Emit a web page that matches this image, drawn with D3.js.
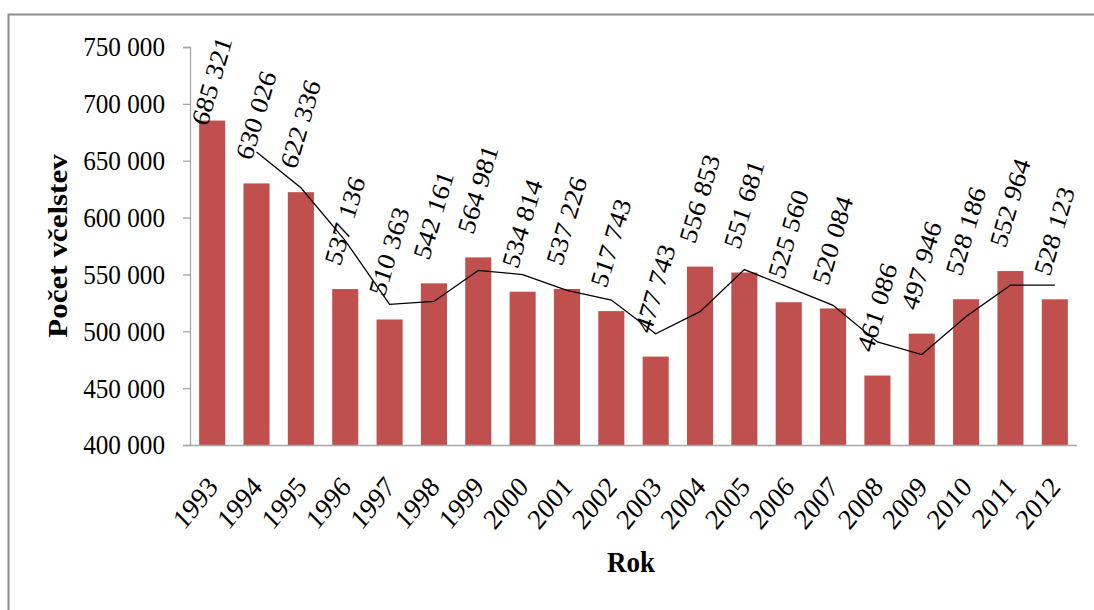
<!DOCTYPE html>
<html>
<head>
<meta charset="utf-8">
<script src="https://cdn.jsdelivr.net/npm/d3@7"></script>
<style>
  html, body { margin: 0; padding: 0; background: #fff; }
  svg { display: block; }
  svg text { font-family: "Liberation Serif"; fill: #000; }
</style>
</head>
<body>
<svg id="chart" width="1094" height="610"></svg>
<script>
// Počet včelstev v ČR 1993–2012
const years = ["1993","1994","1995","1996","1997","1998","1999","2000","2001","2002",
               "2003","2004","2005","2006","2007","2008","2009","2010","2011","2012"];
const colonies = [685321, 630026, 622336, 537136, 510363, 542161, 564981, 534814, 537226, 517743,
                  477743, 556853, 551681, 525560, 520084, 461086, 497946, 528186, 552964, 528123];
// klouzavý průměr (2 období), od roku 1994
const trendYears = years.slice(1);
const movingAvg = [657673.5, 626181, 579736, 523749.5, 526262, 553571, 549897.5, 536020, 527484.5,
                   497743, 517298, 554267, 538620.5, 522822, 490585, 479516, 513066, 540575, 540543.5];
const yTicks = [400000, 450000, 500000, 550000, 600000, 650000, 700000, 750000];

const svg = d3.select("#chart");
const serif = "Liberation Serif";
const squeeze = 0.9;   // užší písmo (vodorovné zúžení textu)

// rámeček grafu
svg.append("rect")
  .attr("x", 8.5).attr("y", 14.5)
  .attr("width", 1200).attr("height", 800)
  .attr("fill", "none").attr("stroke", "#8c8c8c").attr("stroke-width", 2);

const plotLeft = 190, plotRight = 1077, plotTop = 47, plotBottom = 445;

const x = d3.scaleBand().domain(years).range([plotLeft, plotRight])
  .paddingInner(0.412).paddingOuter(0.206);
const y = d3.scaleLinear().domain([400000, 750000]).range([plotBottom, plotTop]);

const loc = d3.formatLocale({ decimal: ",", thousands: " ", grouping: [3], currency: ["", ""] });
const fmt = loc.format(",");

// sloupce
svg.append("g").selectAll("rect").data(years).join("rect")
  .attr("x", d => x(d))
  .attr("y", (d, i) => y(colonies[i]))
  .attr("width", x.bandwidth())
  .attr("height", (d, i) => y(400000) - y(colonies[i]))
  .attr("fill", "#c0504d");

// osa Y
const yAxis = svg.append("g").attr("transform", `translate(${plotLeft},0)`)
  .call(d3.axisLeft(y).tickValues(yTicks).tickFormat(fmt).tickSize(7).tickPadding(18))
  .attr("font-family", serif).attr("font-size", 28);
yAxis.select(".domain").attr("stroke", "#a6a6a6").attr("stroke-width", 1.3);
yAxis.selectAll(".tick line").attr("stroke", "#a6a6a6").attr("stroke-width", 1.3);
yAxis.selectAll(".tick text")
  .attr("fill", "#000")
  .attr("x", 0)
  .attr("transform", `translate(-25,0) scale(${squeeze},1)`);

// osa X
const xAxis = svg.append("g").attr("transform", `translate(0,${plotBottom})`)
  .call(d3.axisBottom(x).tickSize(0).tickSizeOuter(0).tickPadding(0))
  .attr("font-family", serif).attr("font-size", 29);
xAxis.select(".domain").attr("stroke", "#a6a6a6").attr("stroke-width", 1.3)
  .attr("d", `M${plotLeft},0.5H${plotRight}`);
xAxis.selectAll(".tick text")
  .attr("fill", "#000")
  .attr("text-anchor", "end")
  .attr("y", 0)
  .attr("dy", null)
  .attr("transform", `translate(7,43) scale(${squeeze},1) rotate(-48)`);

// trend
const line = d3.line()
  .x((d, i) => x(trendYears[i]) + x.bandwidth() / 2)
  .y(d => y(d));
svg.append("path").datum(movingAvg)
  .attr("d", line)
  .attr("fill", "none").attr("stroke", "#000").attr("stroke-width", 1.3);

// popisky hodnot (nad sloupci, uvnitř rámečku)
const labelAngle = 72, labelSize = 28, labelMinTop = 35;
const rad = labelAngle * Math.PI / 180;
svg.append("g").attr("font-family", serif).attr("font-size", labelSize)
  .selectAll("text").data(years).join("text")
  .attr("text-anchor", "start")
  .text((d, i) => fmt(colonies[i]))
  .attr("transform", function (d, i) {
    const len = this.getComputedTextLength();
    const rise = len * Math.sin(rad) + 0.66 * labelSize * Math.cos(rad);
    const py = Math.max(y(colonies[i]) - 22, labelMinTop + rise);
    const px = x(d) + x.bandwidth() / 2 - 5;
    return `translate(${px},${py}) scale(${squeeze},1) rotate(${-labelAngle})`;
  });

// názvy os
svg.append("text")
  .attr("transform", `translate(67,246) scale(${squeeze},1) rotate(-90)`)
  .attr("text-anchor", "middle").attr("font-size", 31).attr("font-weight", "bold")
  .text("Počet včelstev");
svg.append("text")
  .attr("transform", `translate(631,572) scale(${squeeze},1)`)
  .attr("text-anchor", "middle").attr("font-size", 30).attr("font-weight", "bold")
  .text("Rok");
</script>
</body>
</html>
